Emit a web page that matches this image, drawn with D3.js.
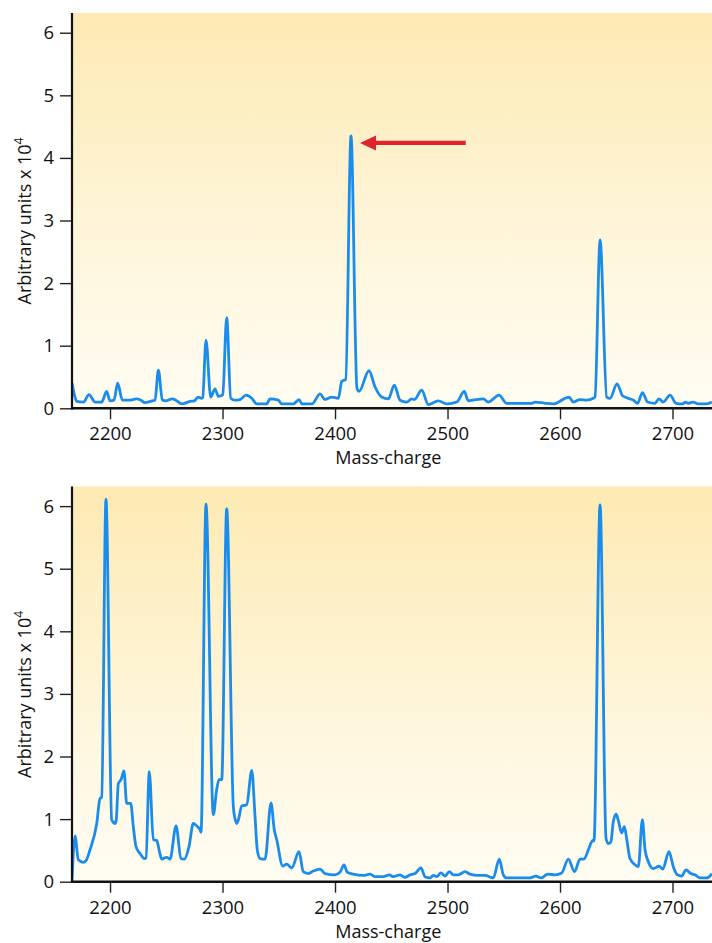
<!DOCTYPE html>
<html>
<head>
<meta charset="utf-8">
<script src="https://cdn.jsdelivr.net/npm/d3@7"></script>
<style>
  html, body { margin: 0; padding: 0; background: #fff; }
  svg { display: block; }
  text { font-family: "Open Sans", "Noto Sans", sans-serif; fill: #111; }
</style>
</head>
<body>
<svg id="chart" width="712" height="943"></svg>
<script>
// ---- Data ----
const xTicks = [2200, 2300, 2400, 2500, 2600, 2700];
const yTicks = [0, 1, 2, 3, 4, 5, 6];
const xTitle = "Mass-charge";
const yTitleMain = "Arbitrary units x 10";
const yTitleSup = "4";

// top spectrum: [mass-charge, intensity (x10^4)]
const topSpectrum = [
  [2166.3,0.40],[2168.5,0.20],[2170.4,0.11],[2176.3,0.10],[2181.3,0.22],[2186.7,0.10],[2192.6,0.10],
  [2197.0,0.27],[2200.0,0.12],[2203.5,0.13],[2206.8,0.40],[2211.0,0.13],[2217.0,0.13],[2223.7,0.15],
  [2227.5,0.13],[2231.0,0.09],[2237.6,0.12],[2240.0,0.13],[2243.0,0.61],[2246.5,0.13],[2250.0,0.12],
  [2255.4,0.15],[2258.5,0.13],[2263.7,0.07],[2271.0,0.11],[2275.0,0.12],[2278.5,0.18],[2281.5,0.16],
  [2282.4,0.17],[2285.3,1.09],[2289.5,0.18],[2293.3,0.31],[2296.3,0.19],[2298.7,0.20],[2300.2,0.22],
  [2303.7,1.45],[2307.3,0.16],[2311.0,0.13],[2315.6,0.14],[2320.9,0.21],[2326.0,0.16],[2330.4,0.07],
  [2339.3,0.07],[2342.2,0.15],[2349.6,0.13],[2352.6,0.07],[2363.0,0.07],[2368.0,0.14],[2370.6,0.07],
  [2379.6,0.07],[2386.7,0.23],[2391.1,0.14],[2397.0,0.18],[2403.0,0.16],[2406.0,0.43],[2409.5,0.46],
  [2414.2,4.35],[2419.5,0.32],[2421.3,0.27],[2430.2,0.60],[2435.6,0.34],[2441.5,0.18],[2447.4,0.15],
  [2452.7,0.37],[2457.8,0.13],[2463.7,0.10],[2468.2,0.15],[2470.5,0.14],[2477.1,0.29],[2482.9,0.06],
  [2491.8,0.12],[2499.3,0.07],[2508.2,0.10],[2514.9,0.27],[2518.5,0.12],[2522.7,0.13],[2531.8,0.15],
  [2536.3,0.10],[2545.8,0.21],[2552.6,0.08],[2574.8,0.08],[2577.8,0.10],[2586.7,0.08],[2594.0,0.07],
  [2608.0,0.18],[2611.8,0.10],[2617.8,0.14],[2623.7,0.13],[2629.6,0.16],[2631.1,0.18],[2635.6,2.69],
  [2641.5,0.18],[2644.4,0.16],[2650.7,0.39],[2655.6,0.20],[2665.2,0.13],[2668.9,0.08],[2673.3,0.25],
  [2677.8,0.10],[2684.4,0.08],[2688.0,0.15],[2691.8,0.10],[2697.8,0.21],[2703.1,0.08],[2709.3,0.07],
  [2711.1,0.10],[2714.0,0.08],[2718.2,0.10],[2722.9,0.07],[2730.4,0.07],[2735.0,0.10]
];

// bottom spectrum: [mass-charge, intensity (x10^4)]
const bottomSpectrum = [
  [2166.2,0.02],[2168.9,0.73],[2171.8,0.35],[2176.3,0.31],[2178.4,0.33],[2182.2,0.51],[2188.2,0.93],
  [2191.1,1.33],[2192.6,1.35],[2196.4,6.11],[2201.5,0.99],[2204.4,0.93],[2205.5,0.98],[2207.4,1.57],
  [2209.8,1.63],[2212.4,1.77],[2214.8,1.25],[2218.4,1.25],[2220.7,0.88],[2223.1,0.56],[2226.7,0.45],
  [2230.7,0.37],[2232.0,0.38],[2234.9,1.76],[2238.5,0.67],[2241.5,0.66],[2243.6,0.51],[2246.0,0.36],
  [2248.3,0.38],[2250.4,0.39],[2253.3,0.36],[2258.7,0.89],[2263.1,0.37],[2266.0,0.36],[2270.2,0.56],
  [2274.0,0.93],[2277.1,0.89],[2280.0,0.83],[2280.9,0.79],[2285.3,6.03],[2291.8,1.07],[2294.8,1.47],
  [2296.9,1.63],[2299.3,1.63],[2303.7,5.96],[2309.6,1.20],[2311.1,1.01],[2312.6,0.93],[2314.0,0.98],
  [2317.1,1.21],[2321.5,1.23],[2326.0,1.78],[2328.9,1.04],[2330.9,0.51],[2333.3,0.37],[2337.8,0.36],
  [2343.1,1.26],[2346.0,0.83],[2348.2,0.67],[2353.5,0.25],[2357.0,0.28],[2361.5,0.22],[2368.0,0.48],
  [2371.8,0.16],[2376.3,0.13],[2380.7,0.17],[2386.7,0.20],[2391.1,0.13],[2400.0,0.11],[2404.4,0.15],
  [2408.0,0.27],[2410.9,0.15],[2416.3,0.12],[2425.2,0.10],[2431.1,0.12],[2435.6,0.08],[2442.9,0.08],
  [2448.3,0.11],[2451.8,0.08],[2457.8,0.11],[2462.2,0.07],[2466.7,0.11],[2471.1,0.13],[2476.4,0.22],
  [2480.0,0.08],[2484.4,0.06],[2487.4,0.10],[2490.4,0.08],[2494.2,0.14],[2497.8,0.09],[2501.6,0.16],
  [2505.2,0.11],[2509.6,0.11],[2515.6,0.16],[2520.0,0.12],[2527.4,0.10],[2533.3,0.10],[2540.7,0.06],
  [2546.0,0.36],[2549.6,0.11],[2552.6,0.06],[2573.3,0.06],[2578.4,0.09],[2583.1,0.06],[2589.1,0.12],
  [2595.6,0.11],[2601.5,0.14],[2607.4,0.36],[2612.9,0.16],[2617.8,0.36],[2621.3,0.36],[2625.2,0.51],
  [2629.1,0.66],[2630.2,0.65],[2635.6,6.02],[2640.9,0.69],[2642.9,0.61],[2645.1,0.63],[2647.4,0.96],
  [2649.8,1.08],[2651.8,0.98],[2654.8,0.78],[2657.2,0.88],[2659.3,0.68],[2662.2,0.37],[2666.7,0.27],
  [2669.6,0.24],[2673.2,0.99],[2675.6,0.51],[2678.5,0.32],[2683.0,0.21],[2688.0,0.25],[2691.3,0.20],
  [2696.9,0.48],[2700.7,0.24],[2704.3,0.11],[2708.2,0.09],[2712.0,0.19],[2716.2,0.13],[2720.0,0.11],
  [2724.4,0.06],[2730.4,0.06],[2735.0,0.13]
];

// arrow annotation on top panel: tail and tip in data units
const arrowFrom = [2516.2, 4.24];
const arrowTo = [2422.2, 4.24];

const xDomain = [2166.2, 2735.1];
const yDomain = [0, 6.315];

// ---- Drawing ----
const svg = d3.select("#chart");
const plotLeft = 72, plotRight = 712;
const panelTops = [13, 486.4];
const plotH = 395.3;

const defs = svg.append("defs");
const grad = defs.append("linearGradient")
  .attr("id", "bg").attr("x1", 0).attr("y1", 0).attr("x2", 0).attr("y2", 1);
grad.append("stop").attr("offset", "0%").attr("stop-color", "#fdeab3");
grad.append("stop").attr("offset", "55%").attr("stop-color", "#fef5d9");
grad.append("stop").attr("offset", "100%").attr("stop-color", "#fffcf2");

function drawPanel(data, top, idx, withArrow) {
  const x = d3.scaleLinear().domain(xDomain).range([plotLeft, plotRight]);
  const y = d3.scaleLinear().domain(yDomain).range([top + plotH, top]);
  const g = svg.append("g");

  g.append("rect")
    .attr("x", plotLeft).attr("y", top)
    .attr("width", plotRight - plotLeft).attr("height", plotH)
    .attr("fill", "url(#bg)");

  defs.append("clipPath").attr("id", "clip" + idx)
    .append("rect").attr("x", plotLeft).attr("y", top - 5)
    .attr("width", plotRight - plotLeft).attr("height", plotH + 5);

  const line = d3.line()
    .x(d => x(d[0])).y(d => y(d[1]))
    .curve(d3.curveMonotoneX);

  g.append("path")
    .datum(data)
    .attr("clip-path", "url(#clip" + idx + ")")
    .attr("d", line)
    .attr("fill", "none")
    .attr("stroke", "#1a8ceb")
    .attr("stroke-width", 2.8)
    .attr("stroke-linejoin", "round");

  // x axis
  const xAxis = d3.axisBottom(x).tickValues(xTicks).tickFormat(d3.format("d"))
    .tickSizeInner(11).tickSizeOuter(0).tickPadding(8);
  const gx = g.append("g").attr("transform", `translate(0,${top + plotH})`).call(xAxis);
  gx.select(".domain").remove();
  gx.selectAll(".tick line").attr("stroke", "#222").attr("stroke-width", 1.4);
  gx.selectAll(".tick text").attr("font-size", 18.5).attr("fill", "#111")
    .attr("font-family", "'Open Sans', sans-serif");

  // y axis
  const yAxis = d3.axisLeft(y).tickValues(yTicks).tickFormat(d3.format("d"))
    .tickSizeInner(12).tickSizeOuter(0).tickPadding(6);
  const gy = g.append("g").attr("transform", `translate(${plotLeft},0)`).call(yAxis);
  gy.select(".domain").remove();
  gy.selectAll(".tick line").attr("stroke", "#222").attr("stroke-width", 1.4);
  gy.selectAll(".tick text").attr("font-size", 18.5).attr("fill", "#111")
    .attr("font-family", "'Open Sans', sans-serif");

  // axis lines
  g.append("line")
    .attr("x1", plotLeft).attr("x2", plotRight)
    .attr("y1", top + plotH).attr("y2", top + plotH)
    .attr("stroke", "#111").attr("stroke-width", 2.6);
  g.append("line")
    .attr("x1", plotLeft).attr("x2", plotLeft)
    .attr("y1", top).attr("y2", top + plotH + 1.3)
    .attr("stroke", "#111").attr("stroke-width", 2.2);

  // axis titles
  g.append("text")
    .attr("x", (x(2400) + x(2500)) / 2 - 3)
    .attr("y", top + plotH + 56)
    .attr("text-anchor", "middle")
    .attr("font-size", 18)
    .text(xTitle);

  const yt = g.append("text")
    .attr("transform", `translate(31,${top + 208}) rotate(-90)`)
    .attr("text-anchor", "middle")
    .attr("font-size", 18);
  yt.append("tspan").text(yTitleMain);
  yt.append("tspan").attr("dy", -8).attr("font-size", 12).text(yTitleSup);

  if (withArrow) {
    const ax0 = x(arrowFrom[0]), ay = y(arrowFrom[1]);
    const ax1 = x(arrowTo[0]);
    g.append("line")
      .attr("x1", ax0).attr("x2", ax1 + 14)
      .attr("y1", ay).attr("y2", ay)
      .attr("stroke", "#e0242b").attr("stroke-width", 4.2);
    g.append("path")
      .attr("d", `M${ax1},${ay} L${ax1 + 16},${ay - 7.5} L${ax1 + 16},${ay + 7.5} Z`)
      .attr("fill", "#e0242b");
  }
}

drawPanel(topSpectrum, panelTops[0], 0, true);
drawPanel(bottomSpectrum, panelTops[1], 1, false);
</script>
</body>
</html>
